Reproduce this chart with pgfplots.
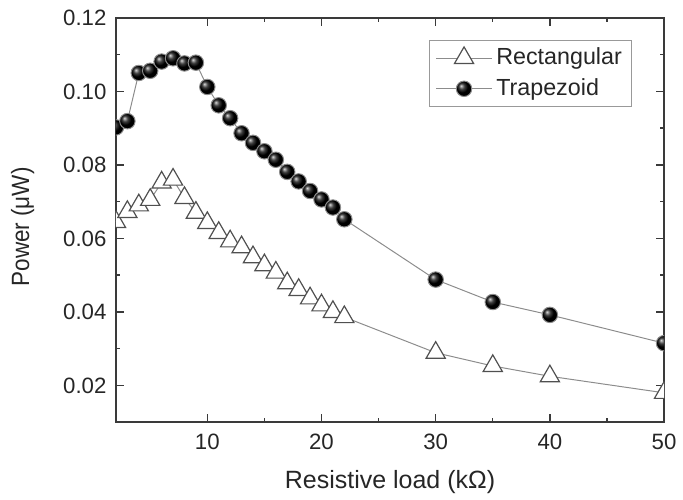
\documentclass[border=0pt]{standalone}
\usepackage{pgfplots}
\pgfplotsset{compat=1.18}
\usepackage{graphicx}
\usepackage{fontspec}
\setmainfont{Liberation Sans}

\definecolor{axisgray}{HTML}{3A3A3A}
\definecolor{linegray}{HTML}{8C8C8C}
\definecolor{markedge}{HTML}{505050}

\begin{document}
\begin{tikzpicture}
  \begin{axis}[
    scale only axis,
    width=276.5pt,
    height=204pt,
    xmin=2, xmax=50,
    ymin=0.01, ymax=0.12,
    xtick={10,20,30,40,50},
    ytick={0.02,0.04,0.06,0.08,0.10,0.12},
    minor x tick num=1,
    minor y tick num=1,
    tick align=inside,
    major tick length=4pt,
    minor tick length=2.2pt,
    clip marker paths=true,
    axis line style={axisgray, line width=0.75pt},
    every tick/.style={axisgray, line width=0.7pt},
    /pgf/number format/assume math mode=true,
    yticklabel style={/pgf/number format/fixed, /pgf/number format/zerofill,
      /pgf/number format/precision=2, xshift=-1.3pt},
    xticklabel style={yshift=-2.3pt},
    ticklabel style={font=\fontsize{11.2}{13}\selectfont, text=black!85},
    scaled y ticks=false,
    xlabel={Resistive load (kΩ)},
    ylabel={\scalebox{0.9}[1]{Power (μW)}},
    xlabel style={font=\fontsize{12.6}{14}\selectfont, text=black!85,
      at={(axis description cs:0.5,-0.147)}, anchor=center},
    ylabel style={font=\fontsize{12.6}{14}\selectfont, text=black!85,
      at={(axis description cs:-0.170,0.483)}, anchor=center},
    legend cell align=left,
    legend style={at={(rel axis cs:0.942,0.946)}, anchor=north east,
      draw=gray!80, line width=0.5pt, font=\fontsize{11.75}{13}\selectfont,
      row sep=1.5pt, inner xsep=3pt, inner ysep=2pt, text=black!85},
    legend image code/.code={
      \draw[mark repeat=2, mark phase=2] plot coordinates {(0pt,0pt) (14pt,0pt) (28pt,0pt)};
    },
  ]

    % open triangles
    \addplot[
      linegray, line width=0.5pt,
      mark=triangle*, mark size=5.6pt,
      mark options={fill=white, draw=markedge, line width=0.6pt}
    ] coordinates {
      (2,0.0645) (3,0.0672) (4,0.0690) (5,0.0705) (6,0.0752) (7,0.0760)
      (8,0.0710) (9,0.0670) (10,0.0642) (11,0.0615) (12,0.0592) (13,0.0576)
      (14,0.0549) (15,0.0527) (16,0.0507) (17,0.0478) (18,0.0460) (19,0.0437)
      (20,0.0418) (21,0.0400) (22,0.0386) (30,0.0289) (35,0.0253) (40,0.0225)
      (50,0.0180)
    };
    \addlegendentry{Rectangular}

    % shaded balls
    \addplot[
      linegray, line width=0.5pt,
      mark=ball, mark size=3.9pt,
      mark options={ball color=black, draw=none}
    ] coordinates {
      (2,0.0902) (3,0.0919) (4,0.1050) (5,0.1056) (6,0.1081) (7,0.1090)
      (8,0.1076) (9,0.1078) (10,0.1012) (11,0.0962) (12,0.0927) (13,0.0886)
      (14,0.0860) (15,0.0837) (16,0.0814) (17,0.0781) (18,0.0755) (19,0.0729)
      (20,0.0706) (21,0.0684) (22,0.0652) (30,0.0488) (35,0.0427) (40,0.0392)
      (50,0.0315)
    };
    \addlegendentry{Trapezoid}

  \end{axis}
  % fix the page margins to the reference's
  \path ([xshift=-58.5pt,yshift=-38pt]current axis.south west)
    rectangle ([xshift=6.5pt,yshift=9pt]current axis.north east);
\end{tikzpicture}
\end{document}
